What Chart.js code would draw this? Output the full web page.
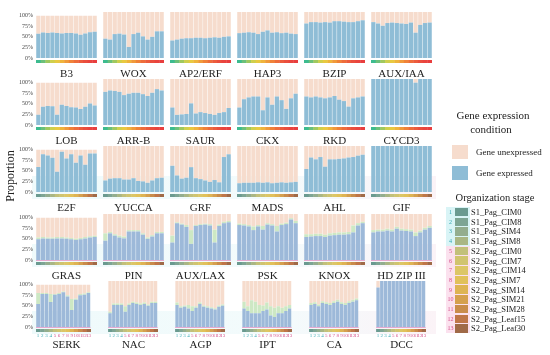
<!DOCTYPE html>
<html>
<head>
<meta charset="utf-8">
<script src="https://cdn.jsdelivr.net/npm/chart.js"></script>
<style>
  body { margin: 0; background: #fff; }
  #wrap { position: relative; width: 550px; height: 355px; overflow: hidden; font-family: "Liberation Serif", serif; color: #222; }
  canvas, .lab, .band { position: absolute; }
  .lab { white-space: nowrap; }
</style>
</head>
<body>
<div id="wrap"></div>
<script>
// data
const genes = ['B3', 'WOX', 'AP2/ERF', 'HAP3', 'BZIP', 'AUX/IAA',
  'LOB', 'ARR-B', 'SAUR', 'CKX', 'RKD', 'CYCD3',
  'E2F', 'YUCCA', 'GRF', 'MADS', 'AHL', 'GIF',
  'GRAS', 'PIN', 'AUX/LAX', 'PSK', 'KNOX', 'HD ZIP III',
  'SERK', 'NAC', 'AGP', 'IPT', 'CA', 'DCC'];

const stageNums = ['1', '2', '3', '4', '5', '6', '7', '8', '9', '10', '11', '12', '13'];
const stages = ['S1_Pag_CIM0', 'S1_Pag_CIM8', 'S1_Pag_SIM4', 'S1_Pag_SIM8', 'S2_Pag_CIM0', 'S2_Pag_CIM7',
  'S2_Pag_CIM14', 'S2_Pag_SIM7', 'S2_Pag_SIM14', 'S2_Pag_SIM21', 'S2_Pag_SIM28', 'S2_Pag_Leaf15', 'S2_Pag_Leaf30'];

const yTicks = [0, 25, 50, 75, 100];

// % gene expressed, one list per gene (same order as genes)
const expressed = [
  [57, 60, 59, 60, 59, 58, 59, 59, 58, 55, 58, 61, 62],
  [42, 40, 52, 53, 51, 24, 52, 55, 47, 40, 46, 58, 58],
  [38, 40, 42, 43, 43, 44, 44, 43, 44, 45, 44, 46, 47],
  [54, 55, 56, 55, 52, 57, 60, 55, 56, 54, 55, 53, 52],
  [75, 78, 78, 77, 78, 77, 80, 80, 79, 78, 78, 80, 82],
  [78, 75, 70, 76, 77, 76, 75, 74, 77, 55, 72, 76, 77],

  [24, 43, 45, 44, 24, 48, 45, 42, 41, 38, 43, 51, 46],
  [72, 75, 74, 72, 65, 68, 70, 70, 67, 63, 70, 78, 75],
  [38, 22, 23, 24, 47, 25, 28, 26, 24, 22, 26, 28, 37],
  [38, 56, 60, 62, 62, 32, 60, 44, 62, 54, 35, 58, 68],
  [62, 60, 62, 60, 58, 60, 63, 55, 52, 40, 58, 60, 62],
  [100, 100, 100, 100, 100, 100, 100, 100, 100, 92, 100, 100, 100],

  [59, 89, 86, 81, 48, 95, 79, 89, 69, 86, 64, 91, 91],
  [25, 29, 30, 30, 27, 27, 30, 24, 23, 20, 25, 30, 31],
  [57, 36, 29, 31, 54, 30, 28, 25, 22, 26, 21, 76, 82],
  [19, 20, 20, 20, 21, 20, 21, 19, 20, 21, 20, 21, 22],
  [50, 75, 71, 76, 55, 71, 71, 72, 73, 75, 76, 79, 81],
  [100, 100, 100, 100, 100, 100, 100, 100, 100, 100, 100, 100, 100],

  [49, 51, 50, 50, 51, 51, 50, 49, 47, 49, 51, 53, 54],
  [42, 58, 53, 49, 47, 62, 62, 62, 55, 46, 51, 58, 58],
  [38, 80, 77, 72, 35, 74, 76, 77, 75, 38, 74, 80, 82],
  [76, 75, 73, 65, 73, 66, 77, 75, 62, 76, 78, 88, 80],
  [50, 51, 52, 52, 50, 53, 54, 55, 55, 56, 60, 75, 80],
  [60, 62, 62, 64, 62, 68, 64, 63, 62, 52, 60, 66, 70],

  [54, 78, 78, 59, 76, 78, 82, 72, 40, 64, 75, 76, 80],
  [30, 48, 48, 48, 33, 48, 52, 50, 48, 50, 46, 52, 52],
  [48, 42, 44, 40, 35, 42, 50, 44, 42, 40, 38, 44, 46],
  [40, 35, 30, 30, 30, 35, 38, 25, 22, 30, 30, 35, 40],
  [48, 50, 45, 52, 50, 48, 52, 55, 50, 48, 52, 55, 58],
  [86, 100, 100, 100, 100, 100, 100, 100, 100, 100, 100, 100, 100]
];

// light green overlap band, only in the last two rows (GRAS .. DCC)
const overlap = [
  [4, 3, 3, 3, 3, 3, 3, 3, 3, 3, 3, 3, 3],
  [16, 3, 3, 4, 4, 3, 3, 3, 3, 3, 3, 3, 3],
  [15, 2, 2, 4, 30, 2, 2, 2, 3, 28, 3, 3, 3],
  [3, 3, 3, 8, 3, 8, 3, 3, 12, 3, 3, 3, 5],
  [6, 5, 5, 5, 5, 5, 5, 5, 5, 5, 15, 5, 3],
  [5, 4, 4, 4, 4, 4, 4, 4, 4, 8, 4, 4, 4],

  [26, 2, 2, 19, 2, 2, 2, 3, 26, 3, 3, 3, 2],
  [3, 3, 3, 3, 12, 3, 3, 3, 3, 3, 3, 3, 3],
  [5, 3, 3, 8, 10, 3, 3, 3, 3, 3, 3, 3, 3],
  [15, 10, 28, 25, 18, 12, 15, 20, 20, 15, 12, 10, 8],
  [4, 4, 4, 4, 4, 4, 4, 4, 4, 4, 4, 4, 4],
  [0, 0, 0, 0, 0, 0, 0, 0, 0, 0, 0, 0, 0]
];

// colours
const peach = '#f6dccd';
const blue = '#8fbdd6';
const blue2 = '#9db9d9';
const green = '#cde8c4';
const brightStrip = ['#3dbb8f', '#6cc07a', '#a0c85e', '#cfcf4c', '#e8c940', '#efb43b', '#f09a3a',
  '#f08238', '#ee6d3a', '#ec5c3c', '#ea4e3d', '#e9443e', '#e83e3e'];
const stageColors = ['#6a9a90', '#7da594', '#93ad8e', '#a9b684', '#c2c07a', '#d0c46f', '#dcc666',
  '#e1c15a', '#deb453', '#d5a04e', '#c98c4b', '#bf7648', '#a06a47'];
const numColor = i => i < 4 ? '#35a9b3' : '#d4508a';

const FONT = '"Liberation Serif", serif';
const wrap = document.getElementById('wrap');

function addLabel(text, x, y, size, opts) {
  opts = opts || {};
  const d = document.createElement('div');
  d.className = 'lab';
  d.textContent = text;
  d.style.fontSize = size + 'px';
  d.style.left = x + 'px';
  d.style.top = y + 'px';
  d.style.lineHeight = '1';
  if (opts.center) d.style.transform = 'translate(-50%, -50%)';
  else d.style.transform = 'translateY(-50%)';
  if (opts.color) d.style.color = opts.color;
  wrap.appendChild(d);
  return d;
}

function addBox(x, y, w, h, bg) {
  const d = document.createElement('div');
  d.className = 'band';
  d.style.left = x + 'px';
  d.style.top = y + 'px';
  d.style.width = w + 'px';
  d.style.height = h + 'px';
  d.style.background = bg;
  wrap.appendChild(d);
}

// strip of stage colours under each panel
const stripPlugin = {
  id: 'strip',
  afterDatasetsDraw(chart, args, opts) {
    const ctx = chart.ctx;
    const area = chart.chartArea;
    const x = chart.scales.x;
    const w = area.width / stageNums.length;
    ctx.save();
    if (opts.line) {
      ctx.fillStyle = opts.line;
      ctx.fillRect(area.left, area.bottom, area.width, 1);
    }
    stageNums.forEach((s, i) => {
      const cx = x.getPixelForValue(i);
      ctx.fillStyle = opts.colors[i];
      ctx.fillRect(cx - w / 2, area.bottom + 2, w + 0.4, 3);
    });
    ctx.restore();
  }
};

const colX = [36, 103, 170, 237, 304, 371];
const rowY = [12, 79, 146, 214, 281];
const plotW = 61, plotH = 46, padTop = 3, axisH = 13, yAxisW = 26;

// pale background bands in the lower rows
for (let r = 2; r < 5; r++) {
  addBox(32, rowY[r] + 30, 404, plotH - 30 + 7, 'linear-gradient(90deg, #effafb, #f3fbfc 60%, #fbf3f7)');
}

genes.forEach((g, k) => {
  const r = Math.floor(k / 6), c = k % 6;
  const first = c === 0;
  const canvas = document.createElement('canvas');
  const cw = plotW + (first ? yAxisW : 0);
  const ch = padTop + plotH + axisH;
  canvas.width = cw;
  canvas.height = ch;
  canvas.style.left = (colX[c] - (first ? yAxisW : 0)) + 'px';
  canvas.style.top = (rowY[r] - padTop) + 'px';
  wrap.appendChild(canvas);

  const exp = expressed[k];
  const ov = r >= 3 ? overlap[k - 18] : exp.map(() => 0);
  const unexp = exp.map((v, i) => Math.max(0, 100 - v - ov[i]));

  new Chart(canvas.getContext('2d'), {
    type: 'bar',
    data: {
      labels: stageNums,
      datasets: [
        { label: 'Gene expressed', data: exp, backgroundColor: r >= 3 ? blue2 : blue },
        { label: 'overlap', data: ov, backgroundColor: green },
        { label: 'Gene unexpressed', data: unexp, backgroundColor: peach }
      ]
    },
    options: {
      responsive: false,
      animation: false,
      devicePixelRatio: 1,
      layout: { padding: { top: padTop, left: 0, right: 0, bottom: 0 } },
      datasets: { bar: { barPercentage: 0.9, categoryPercentage: 1, borderWidth: 0 } },
      plugins: {
        legend: { display: false },
        tooltip: { enabled: false },
        strip: { colors: r < 2 ? brightStrip : stageColors, line: r >= 3 ? '#e7a9d0' : null }
      },
      scales: {
        x: {
          stacked: true,
          grid: { display: false, drawTicks: false },
          border: { display: false },
          ticks: {
            display: r === 4,
            autoSkip: false,
            maxRotation: 0,
            padding: 6,
            font: { size: 5, family: FONT },
            color: ctx => numColor(ctx.index)
          },
          afterFit: s => { s.height = axisH; }
        },
        y: {
          stacked: true,
          min: 0,
          max: 100,
          display: first,
          afterBuildTicks: s => { s.ticks = yTicks.map(v => ({ value: v })); },
          ticks: {
            callback: v => v + '%',
            font: { size: 6, family: FONT },
            color: '#444',
            padding: 3
          },
          grid: { display: false, drawTicks: false },
          border: { display: false },
          afterFit: s => { s.width = first ? yAxisW : 0; }
        }
      }
    },
    plugins: [stripPlugin]
  });

  addLabel(g, colX[c] + plotW / 2, rowY[r] + plotH + (r === 4 ? 17 : 15), 11, { center: true });
});

// y title
const yt = addLabel('Proportion', 10, 176, 12, { center: true });
yt.style.transform = 'translate(-50%, -50%) rotate(-90deg)';

// legend: expression condition
addLabel('Gene expression', 493, 115, 11, { center: true });
addLabel('condition', 491, 129, 11, { center: true });
addBox(452, 145, 16, 14, peach);
addLabel('Gene unexpressed', 476, 152, 9);
addBox(452, 166, 16, 14, blue);
addLabel('Gene expressed', 476, 173, 9);

// legend: organization stage
addLabel('Organization stage', 495, 198, 10.5, { center: true });
const stepY = 9.7, y0 = 212;
addBox(446, y0 - 5, 24, stepY * 4, '#d9f4f6');
addBox(446, y0 - 5 + stepY * 4, 24, stepY * 9, '#fbe1ee');
stages.forEach((s, i) => {
  const y = y0 + i * stepY;
  addBox(455, y - 4.2, 13, 8.6, stageColors[i]);
  addLabel(stageNums[i], 450.5, y, 6, { center: true, color: numColor(i) });
  addLabel(s, 471, y, 8.5);
});
</script>
</body>
</html>
